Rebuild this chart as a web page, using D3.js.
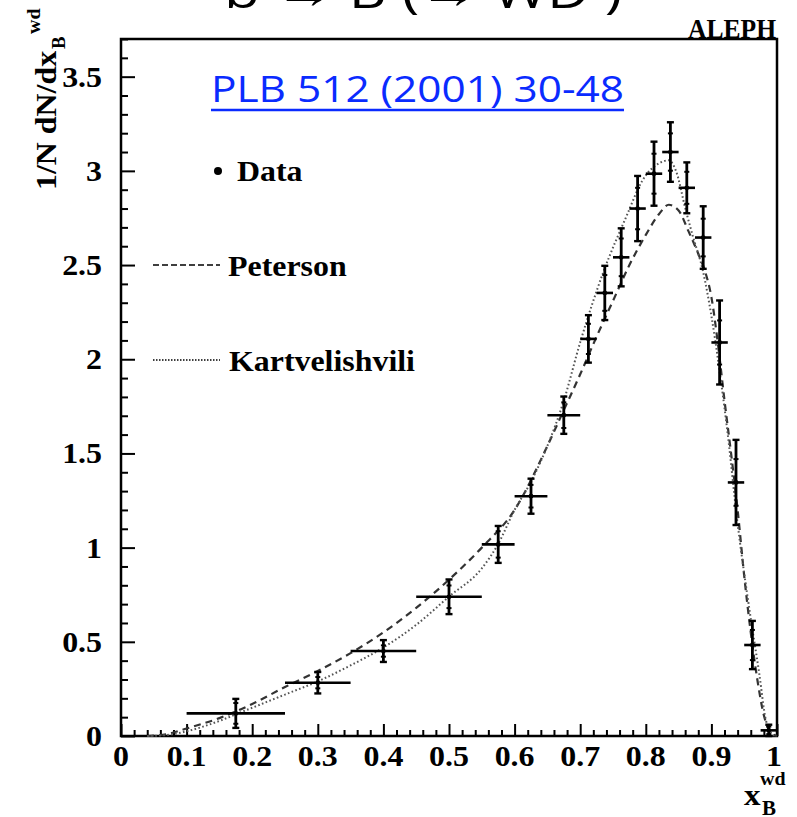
<!DOCTYPE html>
<html><head><meta charset="utf-8">
<script src="https://cdn.jsdelivr.net/npm/d3@7"></script>
<style>html,body{margin:0;padding:0;background:#fff;overflow:hidden}</style>
</head><body>
<script>
// ---------- data ----------
const binLow  = [0.10,0.25,0.35,0.45,0.55,0.60,0.65,0.700,0.725,0.750,0.775,0.800,0.825,0.850,0.875,0.900,0.925,0.950,0.975];
const binHigh = [0.25,0.35,0.45,0.55,0.60,0.65,0.70,0.725,0.750,0.775,0.800,0.825,0.850,0.875,0.900,0.925,0.950,0.975,1.000];
const xCenter = [0.175,0.30,0.40,0.50,0.575,0.625,0.675,0.7125,0.7375,0.7625,0.7875,0.8125,0.8375,0.8625,0.8875,0.9125,0.9375,0.9625,0.9875];
const yData   = [0.12,0.283,0.451,0.739,1.017,1.273,1.703,2.108,2.352,2.541,2.80,2.985,3.10,2.91,2.646,2.089,1.346,0.483,0.03];
const errTot  = [0.077,0.057,0.058,0.092,0.098,0.093,0.099,0.126,0.144,0.154,0.173,0.170,0.158,0.135,0.166,0.223,0.226,0.128,0.03];
const errStat = [0.055,0.030,0.030,0.060,0.070,0.060,0.068,0.080,0.095,0.100,0.110,0.106,0.099,0.085,0.100,0.117,0.124,0.080,0.02];

const petX = [0.04,0.07,0.10,0.15,0.175,0.20,0.25,0.30,0.35,0.40,0.45,0.50,0.55,0.60,0.65,0.675,0.70,0.725,0.75,0.775,0.80,0.82,0.835,0.85,0.865,0.88,0.89,0.90,0.91,0.92,0.93,0.94,0.95,0.96,0.97,0.98,0.99,1.00];
const petY = [0.0,0.01,0.04,0.095,0.13,0.17,0.26,0.345,0.44,0.55,0.68,0.83,1.0,1.2,1.54,1.73,1.92,2.12,2.31,2.50,2.66,2.77,2.82,2.79,2.68,2.56,2.47,2.33,2.08,1.78,1.50,1.20,0.85,0.55,0.30,0.11,0.02,0.0];
const karX = [0.04,0.07,0.10,0.15,0.175,0.20,0.25,0.30,0.35,0.40,0.45,0.50,0.55,0.575,0.60,0.625,0.65,0.675,0.70,0.735,0.77,0.795,0.82,0.835,0.846,0.861,0.872,0.887,0.90,0.912,0.927,0.9375,0.958,0.973,0.983,0.995];
const karY = [0.0,0.005,0.025,0.08,0.115,0.15,0.22,0.29,0.375,0.47,0.59,0.74,0.89,1.02,1.20,1.35,1.54,1.78,2.09,2.46,2.755,2.95,3.04,3.056,3.0,2.79,2.65,2.47,2.23,1.95,1.54,1.20,0.67,0.33,0.085,0.0];

const yMajor = [0,0.5,1,1.5,2,2.5,3,3.5];
const yLabels = ["0","0.5","1","1.5","2","2.5","3","3.5"];
const xMajor = [0,0.1,0.2,0.3,0.4,0.5,0.6,0.7,0.8,0.9,1];
const xLabels = ["0","0.1","0.2","0.3","0.4","0.5","0.6","0.7","0.8","0.9","1"];
const legendNames = ["Data","Peterson","Kartvelishvili"];

// ---------- drawing ----------
const W = 797, H = 817;
const svg = d3.select("body").append("svg").attr("width", W).attr("height", H);
const x = d3.scaleLinear().domain([0,1]).range([121,777]);
const y = d3.scaleLinear().domain([0,3.7]).range([736,39]);
const SERIF = "'Liberation Serif','Times New Roman',Times,serif";

function stext(g, tx, ty, str, size, anchor, sx) {
  return g.append("text")
    .attr("transform", `translate(${tx},${ty}) scale(${sx||1.1},1)`)
    .attr("text-anchor", anchor || "start")
    .style("font-family", SERIF).style("font-weight", "bold")
    .style("font-size", size + "px").attr("fill", "#000").text(str);
}

// title (cut at top)
svg.append("text").attr("x", 224).attr("y", 8)
  .attr("textLength", 398).attr("lengthAdjust", "spacingAndGlyphs")
  .style("font-family", "'Open Sans','Noto Sans',sans-serif").style("font-size", "46px")
  .attr("fill", "#000").text("b → B (→ WD )");

// ALEPH
svg.append("text").attr("x", 688).attr("y", 38)
  .attr("textLength", 88).attr("lengthAdjust", "spacingAndGlyphs")
  .style("font-family", SERIF).style("font-weight", "bold").style("font-size", "27px")
  .text("ALEPH");

// axes ticks
const yMinor = d3.range(0, 3.71, 0.1).map(v => +v.toFixed(2)).filter(v => !yMajor.some(m => Math.abs(m - v) < 1e-6));
const xMinor = d3.range(0, 1.001, 0.02).map(v => +v.toFixed(2)).filter(v => !xMajor.some(m => Math.abs(m - v) < 1e-6));

function styleAxis(g) {
  g.select(".domain").remove();
  g.selectAll(".tick line").attr("stroke", "#000").attr("stroke-width", 2);
  g.selectAll(".tick text").remove();
}
svg.append("g").attr("transform", "translate(121,0)")
  .call(d3.axisLeft(y).tickValues(yMajor).tickSize(-14).tickFormat("")).call(styleAxis);
svg.append("g").attr("transform", "translate(121,0)")
  .call(d3.axisLeft(y).tickValues(yMinor).tickSize(-7).tickFormat("")).call(styleAxis);
svg.append("g").attr("transform", "translate(0,736)")
  .call(d3.axisBottom(x).tickValues(xMajor).tickSize(-12).tickFormat("")).call(styleAxis);
svg.append("g").attr("transform", "translate(0,736)")
  .call(d3.axisBottom(x).tickValues(xMinor).tickSize(-6).tickFormat("")).call(styleAxis);

// frame
svg.append("rect").attr("x", 121).attr("y", 39).attr("width", 656).attr("height", 697)
  .attr("fill", "none").attr("stroke", "#000").attr("stroke-width", 2.5);

// tick labels
const lab = svg.append("g");
yMajor.forEach((v, i) => stext(lab, 102, y(v) + 10, yLabels[i], 29, "end"));
xMajor.forEach((v, i) => stext(lab, x(v) + (i === 10 ? -3 : 0), 766, xLabels[i], 29, "middle"));

// y label
const yl = svg.append("g").attr("transform", "translate(56,190) rotate(-90)");
stext(yl, 0, 0, "1/N dN/dx", 29, "start");
stext(yl, 141, 9, "B", 18, "start", 1.05);
stext(yl, 156, -16, "wd", 19, "start", 1.05);

// x label
stext(svg, 744, 805, "x", 30, "start");
stext(svg, 762, 815, "B", 20, "start", 1.05);
stext(svg, 760, 785, "wd", 19, "start", 1.05);

// curves
const line = d3.line().x(d => x(d[0])).y(d => y(d[1])).curve(d3.curveMonotoneX);
svg.append("path").datum(petX.map((v, i) => [v, petY[i]])).attr("d", line)
  .attr("fill", "none").attr("stroke", "#333").attr("stroke-width", 2.2).attr("stroke-dasharray", "7,5");
svg.append("path").datum(karX.map((v, i) => [v, karY[i]])).attr("d", line)
  .attr("fill", "none").attr("stroke", "#555").attr("stroke-width", 2).attr("stroke-dasharray", "1.6,2.4");

// data points
const pts = svg.append("g").attr("stroke", "#000");
xCenter.forEach((xc, i) => {
  const cx = x(xc), cy = y(yData[i]);
  pts.append("line").attr("x1", x(binLow[i])).attr("x2", x(binHigh[i])).attr("y1", cy).attr("y2", cy).attr("stroke-width", 2.6);
  const t = y(yData[i] + errTot[i]), b = y(Math.max(0, yData[i] - errTot[i]));
  pts.append("line").attr("x1", cx).attr("x2", cx).attr("y1", t).attr("y2", b).attr("stroke-width", 2.8);
  [t, b].forEach(yy => pts.append("line").attr("x1", cx - 3.5).attr("x2", cx + 3.5).attr("y1", yy).attr("y2", yy).attr("stroke-width", 2.4));
  [y(yData[i] + errStat[i]), y(Math.max(0, yData[i] - errStat[i]))].forEach(yy =>
    pts.append("line").attr("x1", cx - 2.5).attr("x2", cx + 2.5).attr("y1", yy).attr("y2", yy).attr("stroke-width", 2));
  pts.append("circle").attr("cx", cx).attr("cy", cy).attr("r", 2.4).attr("fill", "#000").attr("stroke", "none");
});

// legend
const lg = svg.append("g");
lg.append("circle").attr("cx", 218).attr("cy", 171).attr("r", 4).attr("fill", "#000");
stext(lg, 237, 181, legendNames[0], 29, "start");
lg.append("line").attr("x1", 153).attr("x2", 220).attr("y1", 265).attr("y2", 265)
  .attr("stroke", "#000").attr("stroke-width", 1.6).attr("stroke-dasharray", "6,3");
stext(lg, 228, 276, legendNames[1], 29, "start");
lg.append("line").attr("x1", 153).attr("x2", 220).attr("y1", 360).attr("y2", 360)
  .attr("stroke", "#000").attr("stroke-width", 1.6).attr("stroke-dasharray", "1.5,1.5");
stext(lg, 229, 371, legendNames[2], 29, "start");

// reference link
svg.append("text").attr("x", 211).attr("y", 102)
  .attr("textLength", 413).attr("lengthAdjust", "spacingAndGlyphs")
  .style("font-family", "'Open Sans','Noto Sans',sans-serif").style("font-size", "36px")
  .attr("fill", "#0a2bff").text("PLB 512 (2001) 30-48");
svg.append("line").attr("x1", 211).attr("x2", 624).attr("y1", 110).attr("y2", 110)
  .attr("stroke", "#0a2bff").attr("stroke-width", 2.5);
</script>
</body></html>
